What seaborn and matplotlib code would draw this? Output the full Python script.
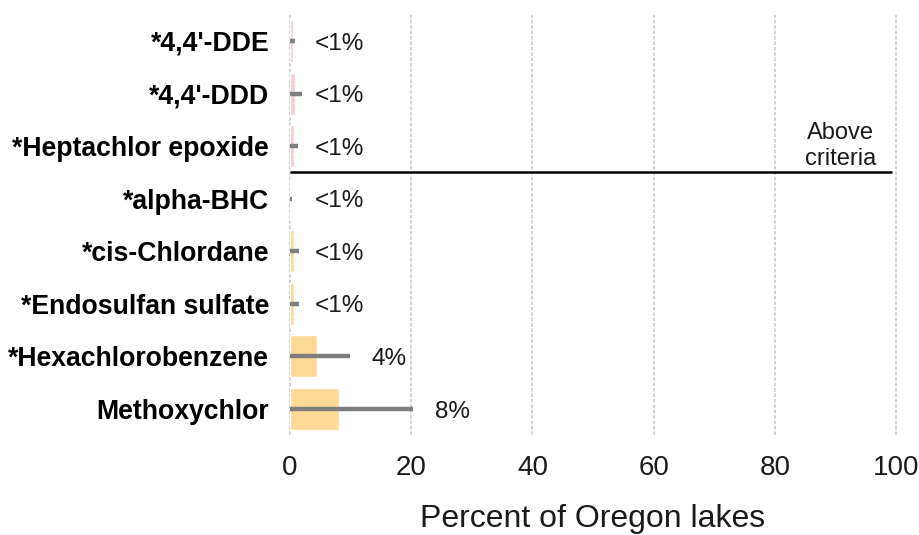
import numpy as np
import pandas as pd
import matplotlib
matplotlib.use("Agg")
import matplotlib.pyplot as plt
import seaborn as sns

# datos
contaminantes = ["*4,4'-DDE", "*4,4'-DDD", "*Heptachlor epoxide", "*alpha-BHC",
                 "*cis-Chlordane", "*Endosulfan sulfate", "*Hexachlorobenzene", "Methoxychlor"]
porcentaje = [0.5, 0.8, 0.6, 0.1, 0.6, 0.6, 4.4, 8.1]
limite_sup = [0.8, 2.0, 1.3, 0.3, 1.4, 1.4, 9.9, 20.3]
etiquetas = ["<1%", "<1%", "<1%", "<1%", "<1%", "<1%", "4%", "8%"]
grupo = ["Above", "Above", "Above", "Below", "Below", "Below", "Below", "Below"]
colores = {"Above": "#F9CCD2", "Below": "#FFD996"}

df = pd.DataFrame({"contaminante": contaminantes, "porcentaje": porcentaje,
                   "limite": limite_sup, "etiqueta": etiquetas, "grupo": grupo})

sns.set_style("white")
plt.rcParams['font.family'] = ['Liberation Sans', 'DejaVu Sans']

fig = plt.figure(figsize=(9.19, 5.35), dpi=100)
ax = fig.add_axes([0.3156, 0.1864, 0.6594, 0.7861])

sns.barplot(data=df, y="contaminante", x="porcentaje", hue="grupo", palette=colores,
            dodge=False, width=0.8, saturation=1, legend=False, ax=ax, zorder=2)

# barras de error (desde 0 hasta el limite superior)
ax.hlines(np.arange(len(df)), 0, df["limite"], color="#7F7F7F", linewidth=3.2, zorder=3)

for i, fila in df.iterrows():
    x = fila["limite"] + 3.6 if fila["limite"] > 5 else 4
    ax.text(x, i + 0.05, fila["etiqueta"], va="center", ha="left", fontsize=17.5, color="#1A1A1A")

# linea de criterio
ax.hlines(2.5, 0, 99.3, color="black", linewidth=1.8, zorder=4)
ax.text(90.8, 2.45, "Above\ncriteria", ha="center", va="bottom", fontsize=17,
        color="#1A1A1A", linespacing=1.2)

ax.set_xlim(0, 100)
ax.set_ylim(7.5, -0.5)
ax.set_xticks([0, 20, 40, 60, 80, 100])
ax.grid(axis="x", color="#D0D0D0", linestyle=(0, (2, 1)), linewidth=1.3, zorder=0)
for linea in ax.get_xgridlines():
    linea.set_clip_on(False)
ax.set_axisbelow(True)
for s in ax.spines.values():
    s.set_visible(False)
ax.tick_params(axis="x", labelsize=20, pad=14, length=0, colors="#1A1A1A")
ax.tick_params(axis="y", labelsize=19.2, pad=15, length=0, colors="#000000")
for t in ax.get_yticklabels():
    t.set_fontweight("bold")
ax.set_ylabel("")
ax.set_xlabel("Percent of Oregon lakes", fontsize=23, color="#1A1A1A", labelpad=17)

fig.savefig("out.png", dpi=100)
